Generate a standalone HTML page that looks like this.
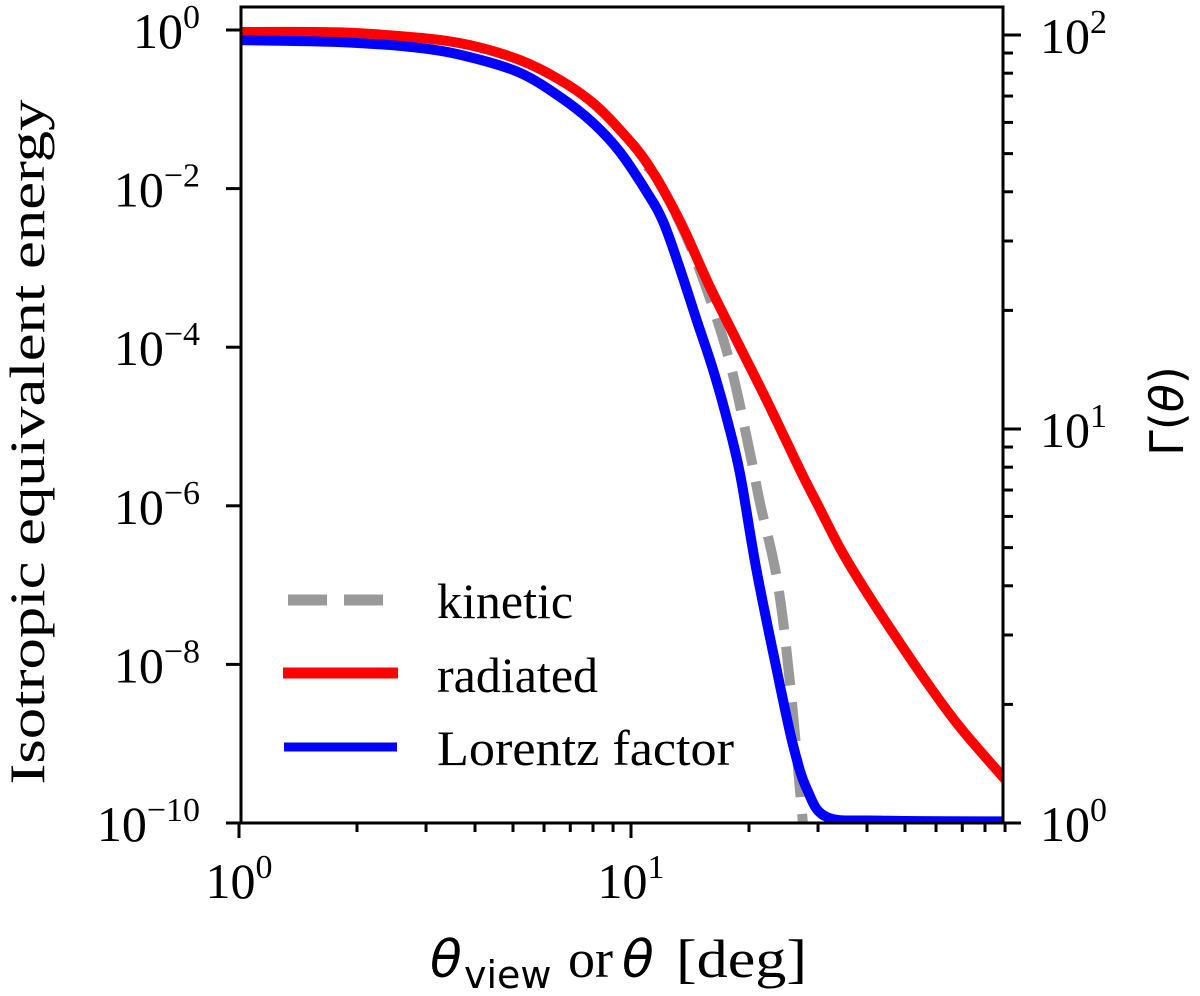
<!DOCTYPE html>
<html><head><meta charset="utf-8"><style>
html,body{margin:0;padding:0;background:#fff;}
svg{display:block;}
.serif{font-family:"Liberation Serif",serif;}
.sans{font-family:"DejaVu Sans","Liberation Sans",sans-serif;}
</style></head><body>
<svg id="chart" width="1200" height="996" viewBox="0 0 1200 996" xmlns="http://www.w3.org/2000/svg">
<defs><clipPath id="plotclip"><rect x="241" y="7" width="762" height="816"/></clipPath></defs>
<g id="series" clip-path="url(#plotclip)"></g>
<rect x="241" y="7" width="762" height="816" fill="none" stroke="#000" stroke-width="3"/>
<g id="ticks"></g>
<g id="labels" class="serif" font-size="50"></g>
<text class="serif" font-size="50" transform="translate(44,442) rotate(-90)" text-anchor="middle" textLength="685" lengthAdjust="spacingAndGlyphs">Isotropic equivalent energy</text>
<text class="sans" font-size="46" transform="translate(1183,411) rotate(-90)" text-anchor="middle">Γ(<tspan font-style="italic">θ</tspan>)</text>
<g>
<text class="sans" font-size="52" font-style="italic" x="430" y="977">θ</text>
<text class="sans" font-size="38" x="464" y="988">view</text>
<text class="serif" font-size="54" x="568" y="977">or</text>
<text class="sans" font-size="52" font-style="italic" x="622" y="977">θ</text>
<text class="serif" font-size="54" x="676" y="977" textLength="131" lengthAdjust="spacingAndGlyphs">[deg]</text>
</g>
<g>
<g>
<line x1="288" y1="600" x2="383" y2="600" stroke="#999" stroke-width="11" stroke-dasharray="39,17"/>
<text class="serif" font-size="50" x="437" y="618">kinetic</text></g>
<g>
<line x1="283" y1="673" x2="398" y2="673" stroke="#f00" stroke-width="11"/>
<text class="serif" font-size="50" x="437" y="692">radiated</text></g>
<g>
<line x1="284" y1="747" x2="397" y2="747" stroke="#00f" stroke-width="9"/>
<text class="serif" font-size="50" x="437" y="765" textLength="297" lengthAdjust="spacingAndGlyphs">Lorentz factor</text></g>
</g>
</svg>
<script>
// theta in degrees; energies as log10(E); Lorentz factor as log10(Gamma)
const kinTheta = [11.0, 11.9, 14.4, 17.6, 20.1, 21.3, 23.6, 25.4, 27.3, 28];
const kinLogE = [-1.72, -1.95, -2.81, -4.07, -5.33, -5.95, -6.94, -8.20, -9.87, -10.5];
const radTheta = [1.0, 1.81, 2.90, 3.88, 5.21, 6.59, 8.00, 9.37, 10.99, 13.3, 15.9, 19.3, 22.6, 27.0, 30.4, 34.1, 38.4, 46.6, 56.9, 69.0, 90];
const radLogE = [-0.025, -0.03, -0.10, -0.19, -0.38, -0.63, -0.92, -1.26, -1.68, -2.40, -3.24, -4.07, -4.75, -5.55, -6.05, -6.53, -6.96, -7.60, -8.23, -8.79, -9.45];
const lorTheta = [1.0, 1.81, 2.90, 3.88, 5.21, 6.59, 8.00, 9.37, 10.99, 12.07, 13.3, 14.7, 16.2, 17.6, 19.0, 20.9, 23.6, 25.9, 28.1, 31.6, 43.2, 90];
const lorLogG = [1.987, 1.982, 1.967, 1.944, 1.904, 1.843, 1.777, 1.703, 1.600, 1.527, 1.410, 1.277, 1.150, 1.023, 0.883, 0.642, 0.383, 0.198, 0.086, 0.015, 0.006, 0.004];
const xMajor = [0, 1];
const yLeftMajor = [0, -2, -4, -6, -8, -10];
const yRightMajor = [0, 1, 2];

const X0 = 239, XD = 392;
const xs = t => X0 + XD * Math.log10(t);
const yL = le => 30 + (-le) * 79.3;
const yR = lg => 823 - lg * 394;
const NS = "http://www.w3.org/2000/svg";
const series = document.getElementById('series');
const ticks = document.getElementById('ticks');
const labels = document.getElementById('labels');

function path(xsArr, ysArr, fx, fy, color, w, dash, name) {
  const pts = xsArr.map((t, i) => [fx(t), fy(ysArr[i])]);
  let d = 'M' + pts[0][0].toFixed(1) + ',' + pts[0][1].toFixed(1);
  for (let i = 0; i < pts.length - 1; i++) {
    const p0 = pts[Math.max(0, i - 1)], p1 = pts[i], p2 = pts[i + 1], p3 = pts[Math.min(pts.length - 1, i + 2)];
    const c1x = p1[0] + (p2[0] - p0[0]) / 6, c1y = p1[1] + (p2[1] - p0[1]) / 6;
    const c2x = p2[0] - (p3[0] - p1[0]) / 6, c2y = p2[1] - (p3[1] - p1[1]) / 6;
    d += 'C' + c1x.toFixed(1) + ',' + c1y.toFixed(1) + ' ' + c2x.toFixed(1) + ',' + c2y.toFixed(1) + ' ' + p2[0].toFixed(1) + ',' + p2[1].toFixed(1);
  }
  const p = document.createElementNS(NS, 'path');
  p.setAttribute('d', d);
  p.setAttribute('fill', 'none');
  p.setAttribute('stroke', color);
  p.setAttribute('stroke-width', w);
  p.setAttribute('stroke-linejoin', 'round');
  if (dash) p.setAttribute('stroke-dasharray', dash);
  
  
  series.appendChild(p);
}
path(kinTheta, kinLogE, xs, yL, '#999', 10, '39,17', 'kinetic-line');
path(radTheta, radLogE, xs, yL, '#f00', 10, null, 'radiated-line');
path(lorTheta, lorLogG, xs, yR, '#00f', 10, null, 'lorentz-factor-line');

function tick(x1, y1, x2, y2, name) {
  const l = document.createElementNS(NS, 'line');
  l.setAttribute('x1', x1); l.setAttribute('y1', y1);
  l.setAttribute('x2', x2); l.setAttribute('y2', y2);
  l.setAttribute('stroke', '#000'); l.setAttribute('stroke-width', 3);
  
  
  ticks.appendChild(l);
}
function label(x, y, exp, anchor, name) {
  const t = document.createElementNS(NS, 'text');
  t.setAttribute('x', x); t.setAttribute('y', y);
  t.setAttribute('text-anchor', anchor);
  
  
  const a = document.createElementNS(NS, 'tspan');
  a.textContent = '10';
  const b = document.createElementNS(NS, 'tspan');
  b.setAttribute('dy', '-20'); b.setAttribute('font-size', '34');
  b.textContent = exp < 0 ? '\u2212' + (-exp) : String(exp);
  t.appendChild(a); t.appendChild(b);
  labels.appendChild(t);
}
xMajor.forEach(e => {
  const x = xs(Math.pow(10, e));
  tick(x, 823, x, 838, 'x-major-tick');
  label(x, 898, e, 'middle', 'x-tick-label');
});
for (let dec = 0; dec < 2; dec++) for (let m = 2; m <= 9; m++) {
  const v = m * Math.pow(10, dec);
  if (v <= 90) { const x = xs(v); tick(x, 823, x, 832, 'x-minor-tick'); }
}
yLeftMajor.forEach(e => {
  const y = yL(e);
  tick(226, y, 241, y, 'y-left-major-tick');
  label(200, y + 18, e, 'end', 'y-left-tick-label');
});
yRightMajor.forEach(e => {
  const y = yR(e);
  tick(1003, y, 1021, y, 'y-right-major-tick');
  label(1040, y + 18, e, 'start', 'y-right-tick-label');
});
for (let dec = 0; dec < 2; dec++) for (let m = 2; m <= 9; m++) {
  const y = yR(dec + Math.log10(m));
  tick(1003, y, 1013, y, 'y-right-minor-tick');
}
</script>
</body></html>
